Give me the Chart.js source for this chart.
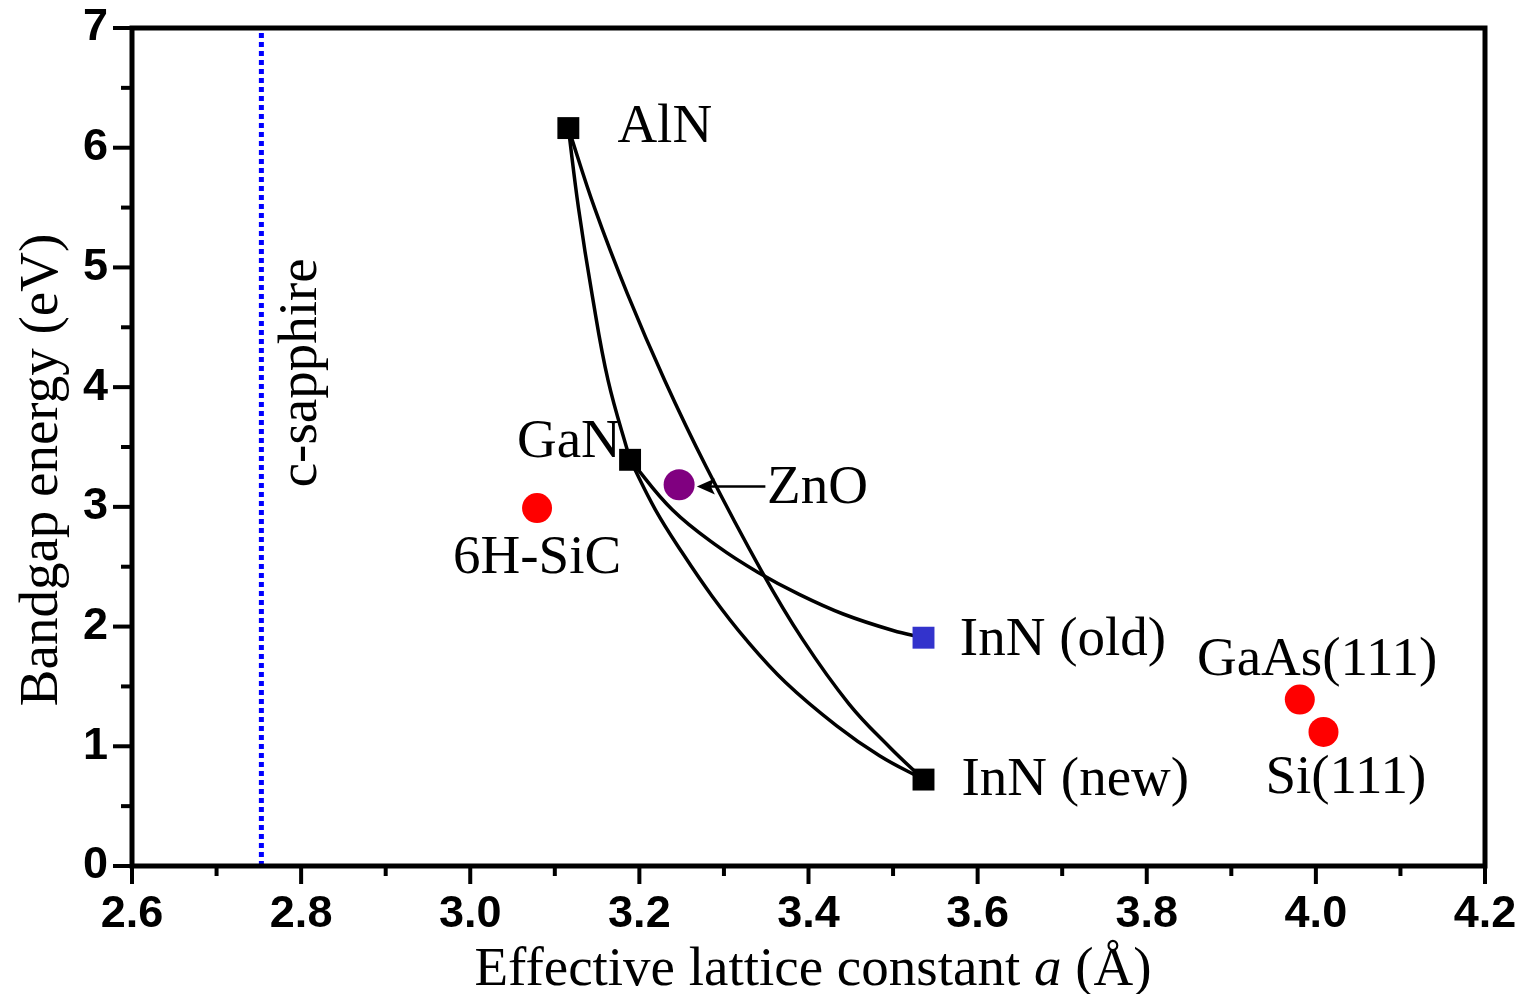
<!DOCTYPE html>
<html>
<head>
<meta charset="utf-8">
<script src="https://cdn.jsdelivr.net/npm/chart.js@4/dist/chart.umd.min.js"></script>
<style>
  html, body { margin: 0; padding: 0; background: #fff; }
</style>
</head>
<body>
<canvas id="chart" width="1531" height="994"></canvas>
<script>
// axis ticks
const xTicks = [2.6, 2.8, 3.0, 3.2, 3.4, 3.6, 3.8, 4.0, 4.2];
const yTicks = [0, 1, 2, 3, 4, 5, 6, 7];

// bowing curves (lattice constant a, bandgap E)
const alnGanA = [3.116, 3.128, 3.144, 3.163, 3.189];
const alnGanE = [6.164, 5.497, 4.777, 4.056, 3.393];

const alnInnA = [3.116, 3.147, 3.186, 3.230, 3.279, 3.344, 3.393, 3.448, 3.496, 3.536];
const alnInnE = [6.164, 5.497, 4.777, 4.056, 3.335, 2.470, 1.893, 1.353, 0.992, 0.722];

const ganInnNewA = [3.189, 3.219, 3.251, 3.286, 3.326, 3.373, 3.433, 3.484, 3.536];
const ganInnNewE = [3.393, 2.975, 2.614, 2.254, 1.893, 1.533, 1.173, 0.921, 0.722];

const ganInnOldA = [3.189, 3.239, 3.294, 3.340, 3.389, 3.441, 3.500, 3.536];
const ganInnOldE = [3.393, 2.976, 2.663, 2.454, 2.269, 2.105, 1.967, 1.907];

// nitride end points (squares)
const nitrideNames = ["AlN", "GaN", "InN (new)"];
const nitrideA = [3.116, 3.189, 3.536];
const nitrideE = [6.164, 3.393, 0.722];
const innOldA = [3.536];
const innOldE = [1.907];

// substrates (circles)
const substrateNames = ["6H-SiC", "GaAs(111)", "Si(111)"];
const substrateA = [3.079, 3.981, 4.009];
const substrateE = [2.99, 1.39, 1.12];
const znoA = [3.247];
const znoE = [3.185];

// c-sapphire reference line
const sapphireA = 2.753;

function toPoints(xs, ys) {
  return xs.map((x, i) => ({ x: x, y: ys[i] }));
}

function curve(xs, ys) {
  return {
    data: toPoints(xs, ys),
    showLine: true,
    borderColor: "#000",
    borderWidth: 3.5,
    pointRadius: 0,
    tension: 0.4,
    order: 2,
  };
}

const serif = '"Liberation Serif", "Times New Roman", serif';
const labelFont = "55px " + serif;

// labels placed in data coordinates (baseline)
const labels = [
  { text: "AlN", x: 3.174, y: 6.05, align: "left" },
  { text: "GaN", x: 3.178, y: 3.42, align: "right" },
  { text: "ZnO", x: 3.351, y: 3.03, align: "left" },
  { text: "6H-SiC", x: 3.079, y: 2.45, align: "center" },
  { text: "InN (old)", x: 3.579, y: 1.765, align: "left" },
  { text: "InN (new)", x: 3.581, y: 0.597, align: "left" },
  { text: "GaAs(111)", x: 4.0015, y: 1.598, align: "center" },
  { text: "Si(111)", x: 4.0355, y: 0.612, align: "center" },
];

const annotations = {
  id: "annotations",
  afterDraw(chart) {
    const ctx = chart.ctx;
    const xs = chart.scales.x;
    const ys = chart.scales.y;
    const area = chart.chartArea;
    ctx.save();
    ctx.fillStyle = "#000";
    ctx.strokeStyle = "#000";

    // frame
    ctx.lineWidth = 5;
    ctx.lineCap = "square";
    ctx.strokeRect(area.left, area.top, area.right - area.left, area.bottom - area.top);

    // x ticks (major + minor)
    ctx.lineWidth = 4;
    ctx.lineCap = "butt";
    for (let i = 0; i < xTicks.length; i++) {
      const px = xs.getPixelForValue(xTicks[i]);
      ctx.beginPath();
      ctx.moveTo(px, area.bottom);
      ctx.lineTo(px, area.bottom + 18);
      ctx.stroke();
      if (i < xTicks.length - 1) {
        const mx = xs.getPixelForValue((xTicks[i] + xTicks[i + 1]) / 2);
        ctx.beginPath();
        ctx.moveTo(mx, area.bottom);
        ctx.lineTo(mx, area.bottom + 10);
        ctx.stroke();
      }
    }
    // y ticks
    for (let i = 0; i < yTicks.length; i++) {
      const py = ys.getPixelForValue(yTicks[i]);
      ctx.beginPath();
      ctx.moveTo(area.left, py);
      ctx.lineTo(area.left - 19, py);
      ctx.stroke();
      if (i < yTicks.length - 1) {
        const my = ys.getPixelForValue((yTicks[i] + yTicks[i + 1]) / 2);
        ctx.beginPath();
        ctx.moveTo(area.left, my);
        ctx.lineTo(area.left - 11, my);
        ctx.stroke();
      }
    }

    // point labels
    ctx.font = labelFont;
    ctx.textBaseline = "alphabetic";
    labels.forEach((l) => {
      ctx.textAlign = l.align;
      ctx.fillText(l.text, xs.getPixelForValue(l.x), ys.getPixelForValue(l.y));
    });

    // ZnO arrow
    const ay = ys.getPixelForValue(3.17);
    const tipX = xs.getPixelForValue(3.268);
    const tailX = xs.getPixelForValue(3.349);
    ctx.lineWidth = 2.5;
    ctx.beginPath();
    ctx.moveTo(tailX, ay);
    ctx.lineTo(tipX + 10, ay);
    ctx.stroke();
    ctx.beginPath();
    ctx.moveTo(tipX, ay);
    ctx.lineTo(tipX + 18, ay - 8);
    ctx.lineTo(tipX + 14, ay);
    ctx.lineTo(tipX + 18, ay + 8);
    ctx.closePath();
    ctx.fill();

    // c-sapphire (rotated)
    ctx.save();
    ctx.translate(xs.getPixelForValue(2.818), ys.getPixelForValue(4.12));
    ctx.rotate(-Math.PI / 2);
    ctx.textAlign = "center";
    ctx.fillText("c-sapphire", 0, 0);
    ctx.restore();

    // y axis title
    ctx.save();
    ctx.translate(57, (area.top + area.bottom) / 2 + 23);
    ctx.rotate(-Math.PI / 2);
    ctx.textAlign = "center";
    ctx.fillText("Bandgap energy (eV)", 0, 0);
    ctx.restore();

    // x axis title with italic a
    const parts = [
      { t: "Effective lattice constant ", f: labelFont },
      { t: "a", f: "italic " + labelFont },
      { t: " (\u00C5)", f: labelFont },
    ];
    let total = 0;
    parts.forEach((p) => {
      ctx.font = p.f;
      p.w = ctx.measureText(p.t).width;
      total += p.w;
    });
    let tx = 813 - total / 2;
    ctx.textAlign = "left";
    parts.forEach((p) => {
      ctx.font = p.f;
      ctx.fillText(p.t, tx, 985);
      tx += p.w;
    });
    ctx.restore();
  },
};

const tickFont = { family: '"Liberation Sans", Arial, sans-serif', size: 45, weight: "bold" };

new Chart(document.getElementById("chart"), {
  type: "scatter",
  data: {
    datasets: [
      {
        data: toPoints(nitrideA, nitrideE),
        pointStyle: "rect",
        pointRadius: 15.5,
        backgroundColor: "#000",
        borderWidth: 0,
        order: 0,
      },
      {
        data: toPoints(innOldA, innOldE),
        pointStyle: "rect",
        pointRadius: 15.5,
        backgroundColor: "#3333cc",
        borderWidth: 0,
        order: 0,
      },
      {
        data: toPoints(substrateA, substrateE),
        pointStyle: "circle",
        pointRadius: 15,
        backgroundColor: "#ff0000",
        borderWidth: 0,
        order: 0,
      },
      {
        data: toPoints(znoA, znoE),
        pointStyle: "circle",
        pointRadius: 15.5,
        backgroundColor: "#800080",
        borderWidth: 0,
        order: 0,
      },
      curve(alnGanA, alnGanE),
      curve(alnInnA, alnInnE),
      curve(ganInnNewA, ganInnNewE),
      curve(ganInnOldA, ganInnOldE),
      {
        data: [{ x: sapphireA, y: 0 }, { x: sapphireA, y: 7 }],
        showLine: true,
        borderColor: "#0000ff",
        borderWidth: 5,
        borderDash: [5, 4],
        pointRadius: 0,
        order: 3,
      },
    ],
  },
  options: {
    responsive: false,
    animation: false,
    layout: { padding: { top: 28, right: 46, left: 0, bottom: 0 } },
    plugins: { legend: { display: false }, tooltip: { enabled: false } },
    scales: {
      x: {
        type: "linear",
        min: 2.6,
        max: 4.2,
        afterBuildTicks: (s) => { s.ticks = xTicks.map((v) => ({ value: v })); },
        afterFit: (s) => {
          s.height = 128;
          s.paddingLeft = 0;
          s.paddingRight = 0;
        },
        grid: { display: false, drawTicks: false },
        border: { display: false },
        ticks: {
          color: "#000",
          font: tickFont,
          padding: 22,
          maxRotation: 0,
          callback: (v) => v.toFixed(1),
        },
      },
      y: {
        type: "linear",
        min: 0,
        max: 7,
        afterBuildTicks: (s) => { s.ticks = yTicks.map((v) => ({ value: v })); },
        afterFit: (s) => {
          s.width = 132;
          s.paddingTop = 0;
          s.paddingBottom = 0;
        },
        grid: { display: false, drawTicks: false },
        border: { display: false },
        ticks: {
          color: "#000",
          font: tickFont,
          padding: 24,
          callback: (v) => String(v),
        },
      },
    },
  },
  plugins: [annotations],
});
</script>
</body>
</html>
